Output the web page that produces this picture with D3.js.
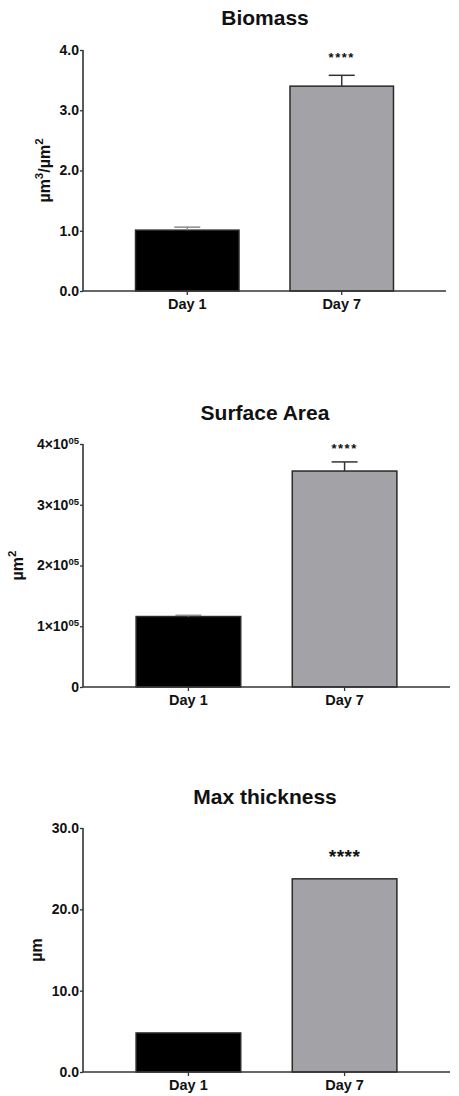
<!DOCTYPE html>
<html>
<head>
<meta charset="utf-8">
<script src="https://cdn.jsdelivr.net/npm/d3@7"></script>
<style>
  body { margin: 0; background: #fff; }
  text { font-family: "Liberation Sans", Arial, sans-serif; font-weight: bold; fill: #111; }
</style>
</head>
<body>
<div id="app"></div>
<script>
// data
const days = ["Day 1", "Day 7"]

const biomassMean = [1.01, 3.40]
const biomassErr = [0.05, 0.18]
const biomassTicks = [0, 1, 2, 3, 4]

const areaMean = [116000, 355500]
const areaErr = [2000, 15000]
const areaTicks = [0, 100000, 200000, 300000, 400000]

const thickMean = [4.8, 23.75]
const thickErr = [0, 0]
const thickTicks = [0, 10, 20, 30]

const stars = ["", "****"]

// layout for each panel
let panels = [
    {title: "Biomass", unit: ["µm", "3", "/µm", "2"], mean: biomassMean, err: biomassErr, ticks: biomassTicks,
     fmt: "f1", top: 50, bottom: 291, right: 446, titleY: 25, labelX: 50, starGap: 13, starSize: 13},
    {title: "Surface Area", unit: ["µm", "2"], mean: areaMean, err: areaErr, ticks: areaTicks,
     fmt: "sci", top: 444, bottom: 687, right: 450, titleY: 420, labelX: 23, starGap: 9, starSize: 13},
    {title: "Max thickness", unit: ["µm"], mean: thickMean, err: thickErr, ticks: thickTicks,
     fmt: "f1", top: 828, bottom: 1072, right: 450, titleY: 804, labelX: 42, starGap: 16, starSize: 19}
]

let width = 459, height = 1096
let left = 83
let colors = ["#000000", "#a3a2a7"]
let errColors = ["#8a8a8a", "#333333"]

let svg = d3.select("#app").append("svg")
    .attr("width", width)
    .attr("height", height)

panels.forEach(p => {
    let g = svg.append("g")

    let x = d3.scaleBand()
        .domain(days)
        .range([left, p.right])
        .paddingInner(0.33)
        .paddingOuter(0.34)

    let y = d3.scaleLinear()
        .domain([0, d3.max(p.ticks)])
        .range([p.bottom, p.top])

    // title
    g.append("text")
        .attr("x", 265)
        .attr("y", p.titleY)
        .attr("text-anchor", "middle")
        .attr("font-size", 21)
        .text(p.title)

    // bars
    g.selectAll("rect.bar")
        .data(p.mean)
        .enter().append("rect")
        .attr("class", "bar")
        .attr("x", (d, i) => x(days[i]))
        .attr("width", x.bandwidth())
        .attr("y", d => y(d))
        .attr("height", d => y(0) - y(d))
        .attr("fill", (d, i) => colors[i])
        .attr("stroke", "#2a2a2a")
        .attr("stroke-width", 1.5)

    // error bars (only the upper half shows)
    p.mean.forEach((m, i) => {
        if (!p.err[i]) return
        let cx = x(days[i]) + x.bandwidth() / 2
        g.append("line")
            .attr("x1", cx).attr("x2", cx)
            .attr("y1", y(m)).attr("y2", y(m + p.err[i]))
            .attr("stroke", errColors[i]).attr("stroke-width", 1.5)
        g.append("line")
            .attr("x1", cx - 13).attr("x2", cx + 13)
            .attr("y1", y(m + p.err[i])).attr("y2", y(m + p.err[i]))
            .attr("stroke", errColors[i]).attr("stroke-width", 1.5)
    })

    // significance stars
    g.selectAll("text.star")
        .data(stars)
        .enter().append("text")
        .attr("class", "star")
        .attr("x", (d, i) => x(days[i]) + x.bandwidth() / 2)
        .attr("y", (d, i) => y(p.mean[i] + p.err[i]) - p.starGap)
        .attr("text-anchor", "middle")
        .attr("font-size", p.starSize)
        .attr("letter-spacing", p.starSize < 15 ? 1.5 : 0.5)
        .text(d => d)

    // y axis
    let yAxis = d3.axisLeft(y)
        .tickValues(p.ticks)
        .tickSize(3)
        .tickPadding(1)
        .tickFormat(d => p.fmt == "f1" ? d3.format(".1f")(d) : "")
    let ya = g.append("g")
        .attr("transform", `translate(${left},0)`)
        .call(yAxis)
    ya.select(".domain").attr("stroke", "#333").attr("stroke-width", 1.6)
        .attr("d", `M0,${p.top}V${p.bottom}`)
    ya.selectAll(".tick line").attr("stroke", "#333").attr("stroke-width", 1.3)
    ya.selectAll(".tick text")
        .attr("font-size", 14)
        .attr("font-family", "Liberation Sans, Arial, sans-serif")
        .attr("fill", "#111")

    if (p.fmt == "sci") {
        ya.selectAll(".tick text").each(function (d) {
            let t = d3.select(this)
            if (d === 0) { t.text("0"); return }
            t.append("tspan").text((d / 100000) + "×10")
            t.append("tspan").attr("font-size", 9.5).attr("dy", -5).text("05")
        })
    }

    // x axis
    let xAxis = d3.axisBottom(x)
        .tickSize(4)
        .tickPadding(4)
    let xa = g.append("g")
        .attr("transform", `translate(0,${p.bottom})`)
        .call(xAxis)
    xa.select(".domain").attr("stroke", "#333").attr("stroke-width", 1.6)
        .attr("d", `M${left},0H${p.right}`)
    xa.selectAll(".tick line").attr("stroke", "#333").attr("stroke-width", 1.3)
    xa.selectAll(".tick text")
        .attr("font-size", 14.5)
        .attr("font-family", "Liberation Sans, Arial, sans-serif")
        .attr("fill", "#111")

    // y label
    let lab = g.append("text")
        .attr("transform", `translate(${p.labelX},${(p.top + p.bottom) / 2}) rotate(-90)`)
        .attr("text-anchor", "middle")
        .attr("dy", "0.35em")
        .attr("font-size", 16)
    p.unit.forEach((u, k) => {
        let sup = k % 2 == 1
        lab.append("tspan")
            .attr("font-size", sup ? 11.5 : 16)
            .attr("dy", sup ? -7 : (k > 0 ? 7 : 0))
            .text(u)
    })
})
</script>
</body>
</html>
